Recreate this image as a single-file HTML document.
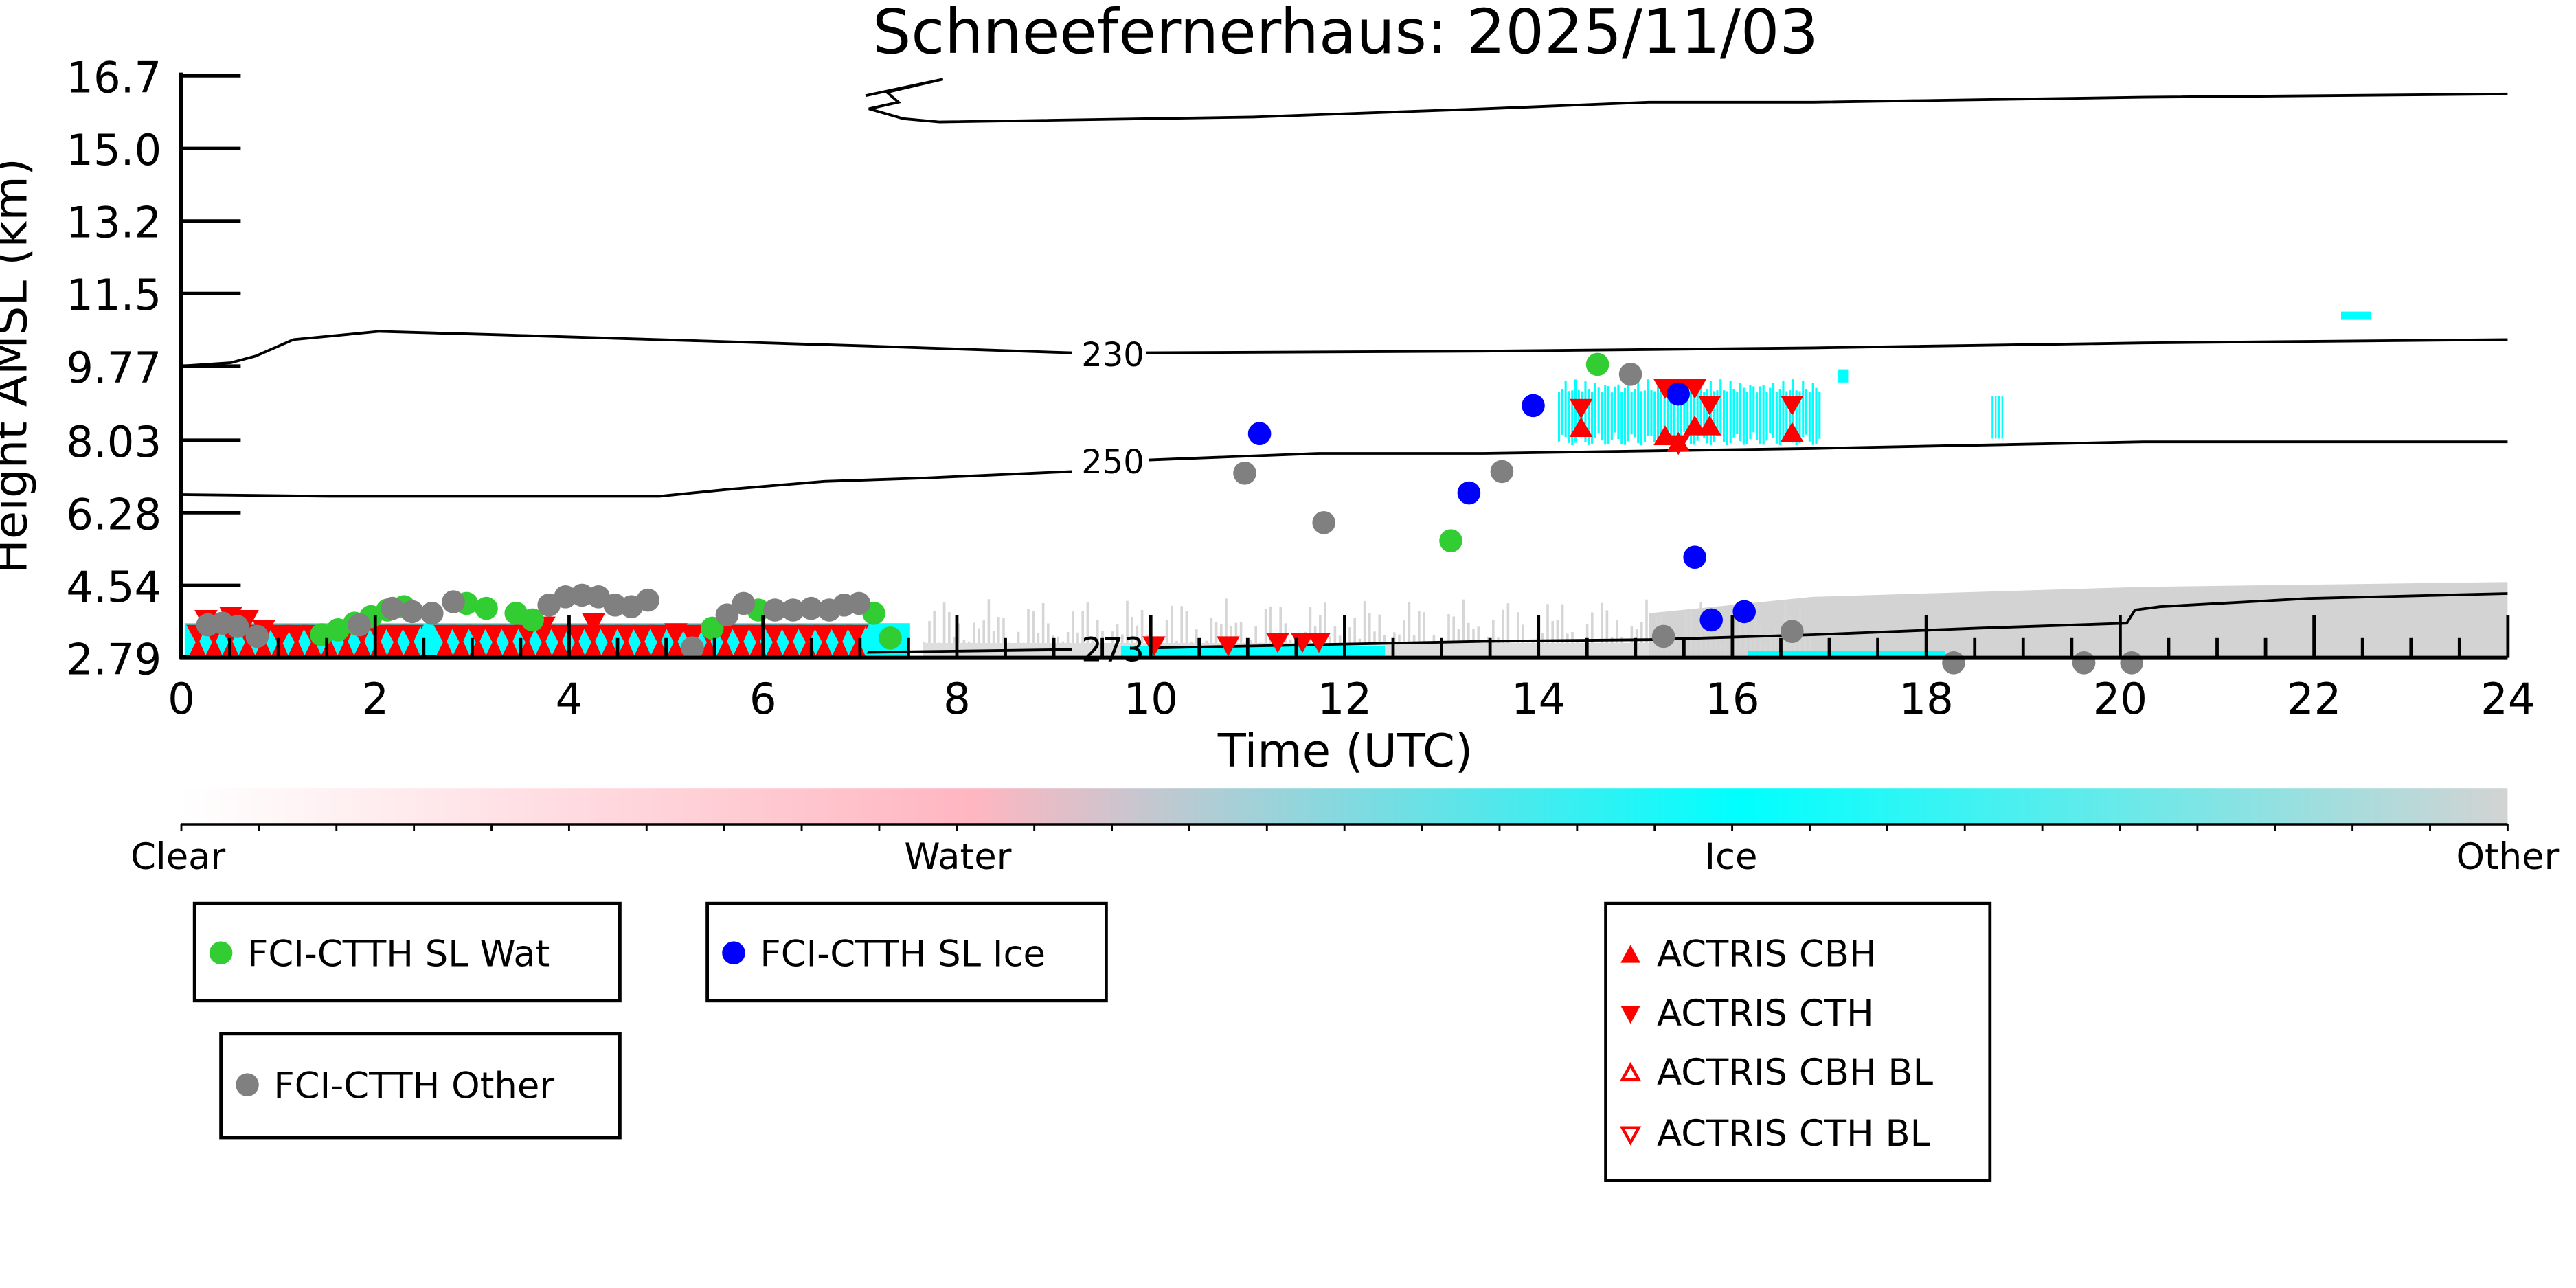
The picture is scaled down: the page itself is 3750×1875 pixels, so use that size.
<!DOCTYPE html>
<html><head><meta charset="utf-8"><style>
html,body{margin:0;padding:0;background:#fff;}
svg{display:block}
text{font-family:"DejaVu Sans","Liberation Sans",sans-serif;}
</style></head><body>
<svg id="s" width="3750" height="1875" viewBox="0 0 1562.5 781.25" xmlns="http://www.w3.org/2000/svg">
<defs>
<linearGradient id="cb" x1="0" x2="1" y1="0" y2="0">
<stop offset="0" stop-color="#ffffff"/>
<stop offset="0.34" stop-color="#ffb6c1"/>
<stop offset="0.67" stop-color="#00ffff"/>
<stop offset="1" stop-color="#d3d3d3"/>
</linearGradient>
</defs>
<text x="816" y="32" font-size="37" text-anchor="middle">Schneefernerhaus: 2025/11/03</text>
<g id="bg"></g>
<g fill="none" stroke="#000" stroke-width="1.6">
<path d="M525,58 L572,48 L538,56 L545,62 L527,66 L548,72 L570,74 L760,71 L900,66 L1000,62 L1100,62 L1300,59 L1521,57"/>
<path d="M110,222 L140,220 L155,216 L178,206 L230,201 L300,203 L400,206 L530,210 L650,214 M695,214 L900,213 L1100,211 L1300,208 L1521,206"/>
<path d="M110,300 L200,301 L400,301 L440,297 L500,292 L560,290 L650,286 M697,279 L800,275 L900,275 L1100,272 L1300,268 L1521,268"/>
<path d="M110,398 L300,398 L500,396 L650,394 M700,393 L900,389 L1000,388 L1100,385 L1200,381 L1290,378 L1295,370 L1310,368 L1400,363 L1521,360"/>
</g>
<text x="675" y="222" font-size="20" text-anchor="middle">230</text>
<text x="675" y="287" font-size="20" text-anchor="middle">250</text>
<text x="675" y="401" font-size="20" text-anchor="middle">273</text>
<g id="mk"></g>
<g stroke="#000" stroke-width="2.5" fill="none">
<line x1="110" y1="44" x2="110" y2="400"/>
<line x1="109" y1="399" x2="1521" y2="399"/>
</g>
<g id="ticks" stroke="#000" stroke-width="2"></g>
<g font-size="26" text-anchor="end">
<text x="98" y="56">16.7</text><text x="98" y="100">15.0</text><text x="98" y="144">13.2</text>
<text x="98" y="188">11.5</text><text x="98" y="232">9.77</text><text x="98" y="277">8.03</text>
<text x="98" y="321">6.28</text><text x="98" y="365">4.54</text><text x="98" y="409">2.79</text>
</g>
<g id="xl" font-size="26" text-anchor="middle"></g>
<text x="816" y="465" font-size="28" text-anchor="middle">Time (UTC)</text>
<text transform="translate(16,222) rotate(-90)" font-size="28" text-anchor="middle">Height AMSL (km)</text>
<rect x="110" y="478" width="1411" height="22" fill="url(#cb)"/>
<line x1="110" y1="500" x2="1521" y2="500" stroke="#000" stroke-width="1.5"/>
<g id="cbt" stroke="#000" stroke-width="1.2"></g>
<g font-size="22" text-anchor="middle">
<text x="108" y="527">Clear</text><text x="581" y="527">Water</text><text x="1050" y="527">Ice</text><text x="1521" y="527">Other</text>
</g>
<g fill="none" stroke="#000" stroke-width="2">
<rect x="118" y="548" width="258" height="59"/>
<rect x="134" y="627" width="242" height="63"/>
<rect x="429" y="548" width="242" height="59"/>
<rect x="974" y="548" width="233" height="168"/>
</g>
<g font-size="22">
<circle cx="134" cy="578" r="7" fill="#32cd32"/><text x="150" y="586">FCI-CTTH SL Wat</text>
<circle cx="150" cy="658" r="7" fill="#808080"/><text x="166" y="666">FCI-CTTH Other</text>
<circle cx="445" cy="578" r="7" fill="#0000ff"/><text x="461" y="586">FCI-CTTH SL Ice</text>
<path d="M983,584 L995,584 L989,573Z" fill="red"/><text x="1005" y="586">ACTRIS CBH</text>
<path d="M983,610 L995,610 L989,621Z" fill="red"/><text x="1005" y="622">ACTRIS CTH</text>
<path d="M984,655 L994,655 L989,646Z" fill="none" stroke="red" stroke-width="1.8"/><text x="1005" y="658">ACTRIS CBH BL</text>
<path d="M984,684 L994,684 L989,693Z" fill="none" stroke="red" stroke-width="1.8"/><text x="1005" y="695">ACTRIS CTH BL</text>
</g>
</svg>
<script>
const NS="http://www.w3.org/2000/svg";
function el(p,t,a){const e=document.createElementNS(NS,t);for(const k in a)e.setAttribute(k,a[k]);document.getElementById(p).appendChild(e);return e;}
const X=h=>110+h*58.8;
for(let h=0;h<=24;h+=2){el('xl','text',{x:X(h),y:433}).textContent=h;}
for(let h=0;h<=24;h+=0.5){const big=h%2==0;el('ticks','line',{x1:X(h),x2:X(h),y1:399,y2:big?373:387});}
[46,90,134,178,222,267,311,355,399].forEach(y=>el('ticks','line',{x1:110,x2:146,y1:y,y2:y}));
for(let i=0;i<=30;i++){const x=110+i*1411/30;el('cbt','line',{x1:x,x2:x,y1:500,y2:504});}
// background
el('bg','path',{d:'M1000,399 L1000,372 L1100,362 L1300,356 L1521,353 L1521,399Z',fill:'#d3d3d3'});
for(let x=560;x<1100;x+=3){const h=4+Math.abs(Math.sin(x*0.37)*Math.cos(x*0.11))*28;el('bg','rect',{x:x,y:399-h-4,width:1.5,height:h,fill:'#d6d6d6'});}
el('bg','rect',{x:560,y:390,width:440,height:9,fill:'#dedede'});
el('bg','rect',{x:112,y:378,width:440,height:21,fill:'#00ffff'});
el('bg','rect',{x:680,y:392,width:160,height:7,fill:'#00ffff'});
el('bg','rect',{x:1060,y:395,width:120,height:4,fill:'#00ffff'});
for(let x=945;x<1105;x+=2){const t=230+Math.abs(Math.sin(x*0.5))*8,b=262+Math.abs(Math.cos(x*0.3))*8;el('bg','rect',{x:x,y:t,width:1.3,height:b-t,fill:'#00ffff'});}
el('bg','rect',{x:1115,y:224,width:6,height:8,fill:'#00ffff'});
for(let x=1208;x<1216;x+=2)el('bg','rect',{x:x,y:240,width:1,height:26,fill:'#00ffff'});
el('bg','rect',{x:1420,y:189,width:18,height:5,fill:'#00ffff'});
// low markers
for(let x=120;x<530;x+=10){
 if(x>250&&x<262)continue;
 el('mk','path',{d:`M${x-7},${379} L${x+7},${379} L${x},${392}Z`,fill:'red'});
 el('mk','path',{d:`M${x-6},${399} L${x+6},${399} L${x},${387}Z`,fill:'red'});
 el('mk','path',{d:`M${x+5},${380} L${x+9},${389} L${x+5},${398} L${x+1},${389}Z`,fill:'#00ffff'});
}
[[125,376],[140,374],[150,376],[160,382],[170,386],[330,380],[360,378],[410,384],[420,386]].forEach(p=>el('mk','path',{d:`M${p[0]-7},${p[1]-6} L${p[0]+7},${p[1]-6} L${p[0]},${p[1]+7}Z`,fill:'red'}));
[[700,392],[745,392],[775,390],[790,390],[800,390]].forEach(p=>el('mk','path',{d:`M${p[0]-7},${p[1]-6} L${p[0]+7},${p[1]-6} L${p[0]},${p[1]+6}Z`,fill:'red'}));
[[959,248],[1010,236],[1020,236],[1028,236],[1037,246],[1087,246],[1018,270]].forEach(p=>el('mk','path',{d:`M${p[0]-7},${p[1]-6} L${p[0]+7},${p[1]-6} L${p[0]},${p[1]+6}Z`,fill:'red'}));
[[959,259],[1010,264],[1028,258],[1037,258],[1087,262],[1018,268]].forEach(p=>el('mk','path',{d:`M${p[0]-7},${p[1]+6} L${p[0]+7},${p[1]+6} L${p[0]},${p[1]-6}Z`,fill:'red'}));
const C=(c,pts)=>pts.forEach(p=>el('mk','circle',{cx:p[0],cy:p[1],r:7,fill:c}));
C('#32cd32',[[195,385],[205,382],[215,378],[225,374],[235,370],[245,368],[283,366],[295,369],[313,372],[323,376],[432,381],[460,370],[530,372],[540,387],[880,328],[969,221]]);
C('#808080',[[126,379],[135,378],[144,380],[156,386],[218,379],[238,369],[250,371],[262,372],[275,365],[333,367],[343,362],[353,361],[363,362],[373,367],[383,368],[393,364],[420,393],[441,373],[451,366],[470,370],[481,370],[492,369],[503,370],[512,367],[521,366],[755,287],[803,317],[911,286],[989,227],[1009,386],[1087,383],[1185,402],[1264,402],[1293,402]]);
C('#0000ff',[[764,263],[891,299],[930,246],[1018,239],[1028,338],[1038,376],[1058,371]]);
</script>
</body></html>
